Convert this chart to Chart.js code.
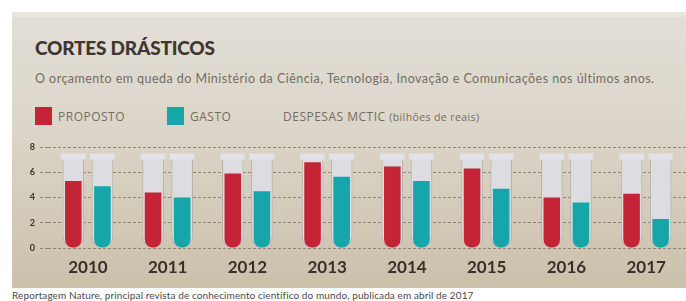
<!DOCTYPE html>
<html>
<head>
<meta charset="utf-8">
<script src="https://cdn.jsdelivr.net/npm/chart.js@4/dist/chart.umd.min.js"></script>
<style>
  body { margin: 0; width: 686px; height: 301px; background: #fff; position: relative; overflow: hidden; font-family: Lato, "Open Sans", sans-serif; }
  #panel { position: absolute; left: 12px; top: 12px; width: 680px; height: 276px;
    background: linear-gradient(#e2ded6 0%, #dcd6ca 40%, #cbc0aa 100%); border-top: 5px solid #e9e6e0; box-sizing: border-box; }
  #title { position: absolute; left: 35px; top: 36px; font-size: 19px; font-weight: 900; color: #3e3631; letter-spacing: -0.2px; }
  #sub { position: absolute; left: 35px; top: 71px; font-size: 12.5px; letter-spacing: 0.45px; color: #756c62; }
  .legend { position: absolute; top: 108px; font-family: "Open Sans", sans-serif; font-size: 12px; letter-spacing: 0.5px; color: #766c61; line-height: 17px; }
  .sw { position: absolute; top: 107px; width: 17px; height: 18px; }
  #foot { position: absolute; left: 12px; top: 289px; font-size: 10px; letter-spacing: 0.1px; color: #4a4a4a; }
  #wrap { position: absolute; left: 0; top: 130px; width: 686px; height: 155px; }
</style>
</head>
<body>
<div id="panel"></div>
<div id="title">CORTES DRÁSTICOS</div>
<div id="sub">O orçamento em queda do Ministério da Ciência, Tecnologia, Inovação e Comunicações nos últimos anos.</div>
<div class="sw" style="left:35px;background:#c42536"></div>
<div class="legend" style="left:58px">PROPOSTO</div>
<div class="sw" style="left:167px;background:#16a6aa"></div>
<div class="legend" style="left:190px">GASTO</div>
<div class="legend" style="left:283px">DESPESAS MCTIC <span style="font-size:10.5px;letter-spacing:0.4px">(bilhões de reais)</span></div>
<div id="foot">Reportagem Nature, principal revista de conhecimento científico do mundo, publicada em abril de 2017</div>
<div id="wrap"><canvas id="chart"></canvas></div>
<script>
const years = ['2010', '2011', '2012', '2013', '2014', '2015', '2016', '2017'];
const proposto = [5.3, 4.4, 5.9, 6.8, 6.45, 6.3, 4.0, 4.3];
const gasto = [4.9, 4.0, 4.5, 5.65, 5.3, 4.7, 3.6, 2.3];
const tubeTop = [7.5, 7.5, 7.5, 7.5, 7.5, 7.5, 7.5, 7.5];
const rimBottom = [7.0, 7.0, 7.0, 7.0, 7.0, 7.0, 7.0, 7.0];
const yTicks = [0, 2, 4, 6, 8];

const rims = years.map((y, i) => [rimBottom[i], tubeTop[i]]);
const barRadius = { topLeft: 0, topRight: 0, bottomLeft: 8, bottomRight: 8 };
const tubeRadius = { topLeft: 0, topRight: 0, bottomLeft: 11, bottomRight: 11 };

new Chart(document.getElementById('chart'), {
    type: 'bar',
    data: {
        labels: years,
        datasets: [
            { label: 'Proposto', data: proposto, stack: 'p', order: 1, backgroundColor: '#c42536',
              barPercentage: 0.57, borderRadius: barRadius, borderSkipped: false },
            { label: 'Gasto', data: gasto, stack: 'g', order: 1, backgroundColor: '#16a6aa',
              barPercentage: 0.57, borderRadius: barRadius, borderSkipped: false },
            { data: rims, stack: 'p', order: 2, backgroundColor: '#e3e3e7', barPercentage: 0.84, borderSkipped: false },
            { data: rims, stack: 'g', order: 2, backgroundColor: '#e3e3e7', barPercentage: 0.84, borderSkipped: false },
            { data: tubeTop, stack: 'p', order: 3, backgroundColor: '#dcdce1', borderColor: '#b3afab', borderWidth: 1,
              barPercentage: 0.74, borderRadius: tubeRadius, borderSkipped: false },
            { data: tubeTop, stack: 'g', order: 3, backgroundColor: '#dcdce1', borderColor: '#b3afab', borderWidth: 1,
              barPercentage: 0.74, borderRadius: tubeRadius, borderSkipped: false }
        ]
    },
    options: {
        responsive: true,
        maintainAspectRatio: false,
        animation: false,
        layout: { padding: { top: 17, right: 0, left: 0, bottom: 0 } },
        datasets: { bar: { categoryPercentage: 0.73 } },
        plugins: { legend: { display: false }, tooltip: { enabled: false } },
        scales: {
            x: {
                stacked: true,
                grid: { display: false },
                border: { display: false },
                ticks: { color: '#3a302a', font: { family: 'Lato', size: 17, weight: 'bold' }, padding: 1 },
                afterFit: s => { s.height = 37; }
            },
            y: {
                stacked: false,
                min: 0,
                max: 8,
                afterFit: s => { s.width = 48; },
                afterBuildTicks: s => { s.ticks = yTicks.map(v => ({ value: v })); },
                border: { display: false, dash: [3, 2] },
                grid: { color: '#8f8576', lineWidth: 1, tickLength: 8, tickBorderDash: [3, 2], tickColor: '#8f8576' },
                ticks: { color: '#3a302a', font: { family: 'Lato', size: 9, weight: 'bold' }, padding: 5 }
            }
        }
    }
});
</script>
</body>
</html>
